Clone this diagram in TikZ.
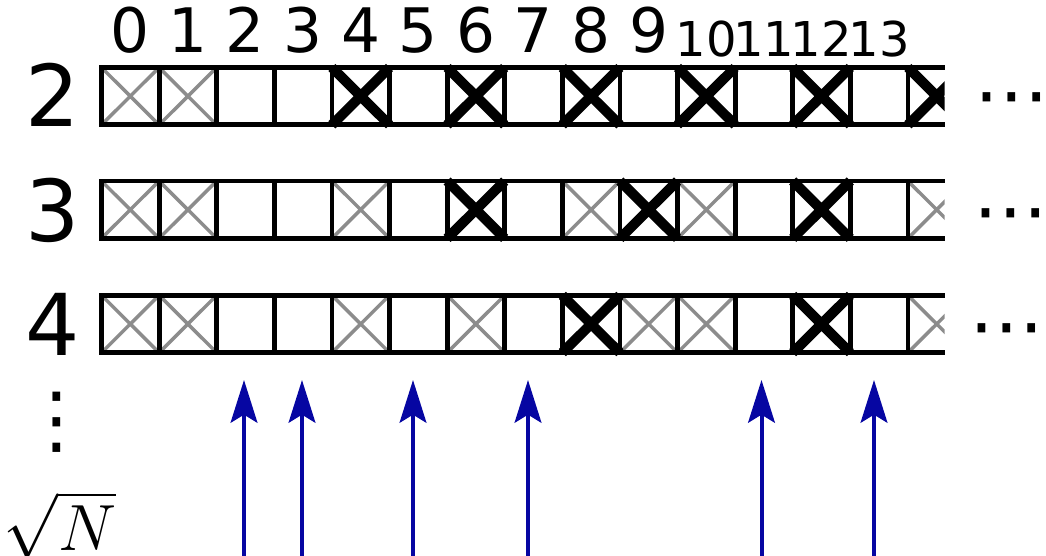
\RequirePackage{fix-cm}
\documentclass[tikz,border=0pt]{standalone}
\usepackage{fontspec}
\setmainfont{DejaVu Sans}
\usetikzlibrary{arrows.meta}

\begin{document}
\begin{tikzpicture}[x=0.75pt, y=-0.75pt,
    rahmen/.style={line width=3.6pt},
    kreuzgrau/.style={line width=2.6pt, grauton},
    kreuzfett/.style={line width=7.5pt},
    zahl/.style={font=\fontsize{64}{68}\selectfont, inner sep=0pt},
    index/.style={font=\fontsize{46}{50}\selectfont, inner sep=0pt, anchor=base},
    indexklein/.style={font=\fontsize{36}{40}\selectfont, inner sep=0pt, anchor=base},
    punkte/.style={font=\fontsize{56}{60}\selectfont, inner sep=0pt},
    pfeil/.style={line width=3pt, pfeilblau,
      -{Stealth[length=32pt, width=20pt, inset=6pt]}}]

  % --- Farben ---
  \definecolor{grauton}{HTML}{8C8C8C}  % bereits gestrichen
  \definecolor{pfeilblau}{HTML}{0606A2} % Primzahlen

  \useasboundingbox (0,0) rectangle (1046,556);

  % --- Hilfsmakros: \xgrau{Index}{Oberkante}, \xfett{Index}{Oberkante} ---
  \newcommand{\xgrau}[2]{%
    \draw[kreuzgrau] ({101.5+57.6*#1},#2) -- ++(57.6,57.4) ++(-57.6,0) -- ++(57.6,-57.4);
  }
  \newcommand{\xfett}[2]{%
    \draw[kreuzfett] ({101.5+57.6*#1},#2) -- ++(57.6,57.4) ++(-57.6,0) -- ++(57.6,-57.4);
  }
  % --- Hilfsmakro: \reihe{Oberkante} ---
  \newcommand{\reihe}[1]{%
    \draw[rahmen] (101.5,#1) -- (945,#1) (101.5,{#1+57.4}) -- (945,{#1+57.4});
    \foreach \k in {0,...,14} {\draw[rahmen, line cap=rect] ({101.5+57.6*\k},#1) -- ++(0,57.4);}
  }

  % --- Indizes ---
  \foreach \i in {0,...,9} {\node[index] (i\i) at ({101.5+57.6*(\i+0.5)},53) {\i};}
  \foreach \i in {10,...,13} {\node[indexklein] (i\i) at ({101.5+57.6*(\i+0.5)},57) {\i};}

  % --- Zeilenbeschriftung ---
  \node[zahl] (z2) at (52.5,95) {2};
  \node[zahl] (z3) at (52.5,210) {3};
  \node[zahl] (z4) at (52.5,324) {4};

  % --- graue Kreuze (schon gestrichen) ---
  \begin{scope}
    \clip (0,0) rectangle (944.5,556);
    % Zeile 2
    \foreach \i in {0,1} {\xgrau{\i}{67.5}}
    % Zeile 3
    \foreach \i in {0,1,4,8,10,14} {\xgrau{\i}{181}}
    % Zeile 4
    \foreach \i in {0,1,4,6,9,10,14} {\xgrau{\i}{295.3}}
  \end{scope}

  % --- Zellen ---
  \reihe{67.5}
  \reihe{181}
  \reihe{295.3}

  % --- fette Kreuze (neu gestrichen) ---
  \begin{scope}
    \clip (0,0) rectangle (944.5,556);
    \foreach \i in {4,6,8,10,12,14} {\xfett{\i}{67.5}}
    \foreach \i in {6,9,12} {\xfett{\i}{181}}
    \foreach \i in {8,12} {\xfett{\i}{295.3}}
  \end{scope}

  % --- Fortsetzung ---
  \node[punkte, anchor=base] (p2) at (1012,121) {\kern-0.12em⋯\kern-0.12em};
  \node[punkte, anchor=base] (p3) at (1011,236) {\kern-0.12em⋯\kern-0.12em};
  \node[punkte, anchor=base] (p4) at (1007,351) {\kern-0.12em⋯\kern-0.12em};
  \node[punkte] (pv) at (57,422) {⋮};
  \node[inner sep=0pt] (wurzel) at (60,525) {\fontsize{49}{52}\selectfont$\sqrt{N}$};

  % --- Pfeile auf die Primzahlen ---
  \foreach \n/\x in {2/244, 3/302, 5/413, 7/528, 11/761.5, 13/874} {
    \coordinate (fuss\n) at (\x,560);
    \coordinate (spitze\n) at (\x,380);
    \draw[pfeil] (fuss\n) -- (spitze\n);
  }

\end{tikzpicture}
\end{document}
